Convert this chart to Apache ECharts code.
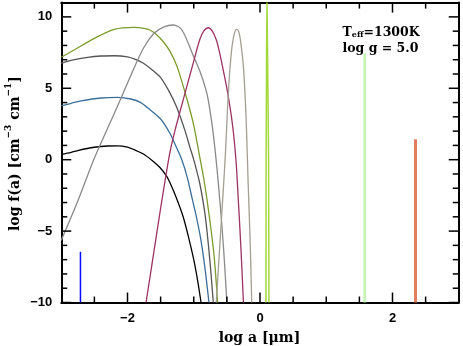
<!DOCTYPE html>
<html><head><meta charset="utf-8">
<script src="https://cdn.jsdelivr.net/npm/echarts@6/dist/echarts.min.js"></script>
<style>html,body{margin:0;padding:0;background:#fff}#wrap{position:relative;width:463px;height:346px;background:#fff}#c,#t{position:absolute;left:0;top:0;width:463px;height:346px}#t{pointer-events:none;z-index:2}#c{z-index:1}</style>
</head><body><div id="wrap"><div id="c"></div><div id="t"></div></div>
<script>
// axis ranges and ticks
const xRange = [-3, 3];
const yRange = [-10, 11];
const xMajorTicks = [-2, 0, 2];
const xMinorTicks = [-2.5, -1.5, -1, -0.5, 0.5, 1, 1.5, 2.5];
const yMajorTicks = [-10, -5, 0, 5, 10];
const yMinorTicks = [-9, -8, -7, -6, -4, -3, -2, -1, 1, 2, 3, 4, 6, 7, 8, 9];

// curves: [log a, log f(a)]
const blackCurve = [[-3.0,0.38],[-2.85,0.52],[-2.74,0.66],[-2.5,0.87],[-2.3,0.96],[-2.15,0.97],[-2.0,0.88],[-1.91,0.72],[-1.76,0.40],[-1.61,-0.12],[-1.51,-0.55],[-1.41,-1.15],[-1.36,-1.6],[-1.26,-2.7],[-1.16,-4.0],[-1.08,-5.4],[-1.0,-7.0],[-0.94,-8.5],[-0.89,-10]];
const blueCurve = [[-3.0,3.76],[-2.85,3.95],[-2.7,4.12],[-2.4,4.32],[-2.15,4.36],[-1.95,4.25],[-1.8,4.0],[-1.66,3.5],[-1.5,2.85],[-1.36,1.85],[-1.26,0.85],[-1.18,0.0],[-1.1,-1.2],[-1.02,-2.8],[-0.96,-4.0],[-0.9,-5.4],[-0.86,-6.6],[-0.82,-8.0],[-0.77,-10]];
const darkGrayCurve = [[-3.0,6.75],[-2.8,7.0],[-2.6,7.17],[-2.4,7.26],[-2.2,7.28],[-2.0,7.2],[-1.88,7.02],[-1.76,6.75],[-1.63,6.3],[-1.5,5.75],[-1.38,4.85],[-1.26,3.7],[-1.13,2.0],[-1.06,0.9],[-1.0,0.0],[-0.91,-1.65],[-0.84,-3.5],[-0.8,-5.0],[-0.75,-7.4],[-0.705,-10]];
const oliveCurve = [[-3.0,7.17],[-2.8,7.7],[-2.5,8.5],[-2.2,9.13],[-1.9,9.27],[-1.75,9.2],[-1.66,9.08],[-1.56,8.75],[-1.46,8.26],[-1.36,7.6],[-1.25,6.5],[-1.1,4.2],[-1.0,2.4],[-0.91,0.2],[-0.85,-1.3],[-0.8,-2.8],[-0.75,-4.5],[-0.7,-6.4],[-0.67,-8.0],[-0.64,-10]];
const grayCurve = [[-3.0,-5.65],[-2.75,-2.9],[-2.51,0.0],[-2.3,2.2],[-2.11,4.18],[-1.95,5.9],[-1.76,7.8],[-1.6,8.85],[-1.45,9.3],[-1.31,9.43],[-1.18,9.1],[-1.0,7.2],[-0.9,6.1],[-0.8,4.6],[-0.74,3.0],[-0.69,1.2],[-0.65,-0.6],[-0.6,-3.2],[-0.55,-6.2],[-0.5,-10]];
const magentaCurve = [[-1.72,-10],[-1.6,-6.4],[-1.5,-3.4],[-1.42,-1.1],[-1.36,0.5],[-1.28,2.1],[-1.2,3.5],[-1.1,5.2],[-1.0,6.9],[-0.91,8.4],[-0.85,9.0],[-0.78,9.24],[-0.72,9.0],[-0.66,8.4],[-0.62,7.7],[-0.56,6.4],[-0.5,5.0],[-0.44,3.3],[-0.4,1.85],[-0.36,-0.2],[-0.33,-2.6],[-0.29,-6.0],[-0.25,-10]];
const tanCurve = [[-0.66,-10],[-0.6,-5.5],[-0.55,-1.8],[-0.52,0.6],[-0.49,3.6],[-0.46,6.0],[-0.42,8.0],[-0.38,8.95],[-0.35,9.13],[-0.32,8.95],[-0.29,8.2],[-0.25,6.5],[-0.22,4.0],[-0.2,1.6],[-0.18,-1.5],[-0.15,-5.5],[-0.125,-10]];
const yellowGreenSpike = [[0.09,-10],[0.092,0],[0.1,8],[0.106,11],[0.113,8],[0.13,0],[0.135,-10]];
const paleGreenSpike = [[1.58,-10],[1.58,7.45]];
const orangeSpike = [[2.347,-10],[2.347,1.43]];
const blueSpike = [[-2.71,-10],[-2.71,-6.44]];

const fmt = v => String(v).replace('-', '\u2212');
const gridBox = {left: 61.25, top: 2.6, width: 397.5, height: 299.9};

// ---- tick overlay first: a transparent chart with the same grid and scales ----
try {
  const tickChart = echarts.init(document.getElementById('t'), null, {renderer:'canvas'});
  tickChart.setOption({
    animation:false,
    grid: Object.assign({}, gridBox),
    xAxis:{type:'value', min:xRange[0], max:xRange[1], axisLine:{show:false}, axisTick:{show:false}, axisLabel:{show:false}, splitLine:{show:false}},
    yAxis:{type:'value', min:yRange[0], max:yRange[1], axisLine:{show:false}, axisTick:{show:false}, axisLabel:{show:false}, splitLine:{show:false}},
    series:[{type:'line', data:[[xRange[0], yRange[0]], [xRange[1], yRange[1]]], showSymbol:false, lineStyle:{opacity:0}, silent:true}]
  });
  const els = [];
  const toPx = p => tickChart.convertToPixel({xAxisIndex:0, yAxisIndex:0}, p);
  const addX = (vals, len) => vals.forEach(v => {
    const b = toPx([v, yRange[0]]), t = toPx([v, yRange[1]]);
    els.push({type:'rect', shape:{x:b[0] - 0.75, y:b[1] - len, width:1.5, height:len}, style:{fill:'#000'}});
    els.push({type:'rect', shape:{x:t[0] - 0.75, y:t[1], width:1.5, height:len}, style:{fill:'#000'}});
  });
  const addY = (vals, len) => vals.forEach(v => {
    const l = toPx([xRange[0], v]), r = toPx([xRange[1], v]);
    els.push({type:'rect', shape:{x:l[0], y:l[1] - 0.75, width:len, height:1.5}, style:{fill:'#000'}});
    els.push({type:'rect', shape:{x:r[0] - len, y:r[1] - 0.75, width:len, height:1.5}, style:{fill:'#000'}});
  });
  addX(xMajorTicks, 10); addX(xMinorTicks, 6);
  addY(yMajorTicks, 10); addY(yMinorTicks, 6);
  tickChart.setOption({graphic: els});
} catch (e) { /* keep going */ }

// ---- main chart ----
const labelFont = {color:'#000', fontFamily:'Liberation Sans', fontWeight:'bold', fontSize:13};
function xAx(pos, labels) {
  return {type:'value', min:xRange[0], max:xRange[1], interval:0.5, position:pos,
    axisLine:{show:true, onZero:false, lineStyle:{color:'#000', width:2}},
    axisTick:{show:false},
    axisLabel:Object.assign({show:labels, margin:9,
      formatter: v => xMajorTicks.indexOf(v) >= 0 ? fmt(v) : ''}, labelFont),
    splitLine:{show:false}};
}
function yAx(pos, labels) {
  return {type:'value', min:yRange[0], max:yRange[1], interval:1, position:pos,
    axisLine:{show:true, onZero:false, lineStyle:{color:'#000', width:2}},
    axisTick:{show:false},
    axisLabel:Object.assign({show:labels, margin:9,
      formatter: v => yMajorTicks.indexOf(v) >= 0 ? fmt(v) : ''}, labelFont),
    splitLine:{show:false}};
}
function line(data, color, width, smooth) {
  return {type:'line', data:data, showSymbol:false, symbol:'none',
    smooth:smooth, lineStyle:{color:color, width:width}};
}
try {
  const chart = echarts.init(document.getElementById('c'), null, {renderer:'canvas'});
  chart.setOption({
    animation:false,
    grid: Object.assign({}, gridBox),
    xAxis:[xAx('bottom', true), xAx('top', false)],
    yAxis:[yAx('left', true), yAx('right', false)],
    series:[
      line(blackCurve, '#000000', 1.3, 0.3),
      line(blueCurve, '#3b6f9a', 1.3, 0.3),
      line(darkGrayCurve, '#555555', 1.3, 0.3),
      line(oliveCurve, '#7b9c2a', 1.3, 0.3),
      line(grayCurve, '#8a8a8a', 1.3, 0.3),
      line(magentaCurve, '#9c3364', 1.3, 0.3),
      line(tanCurve, '#a39f94', 1.3, 0.3),
      line(yellowGreenSpike, '#a3d93a', 1.5, false),
      line(paleGreenSpike, '#c0f5b0', 2.5, false),
      line(orangeSpike, '#e07f60', 3, false),
      line(blueSpike, '#0a0aff', 1.5, false)
    ],
    graphic:[
      {type:'text', x:342.5, y:25, style:{text:'{a|T}{b|eff}{a|=1300K}', rich:{
        a:{fontFamily:'DejaVu Serif', fontWeight:'bold', fontSize:12.5, lineHeight:14, fill:'#000', verticalAlign:'bottom'},
        b:{fontFamily:'DejaVu Serif', fontWeight:'bold', fontSize:8, lineHeight:6, fill:'#000', verticalAlign:'bottom'}}}},
      {type:'text', x:342.5, y:42.5, style:{text:'log g = 5.0', fontFamily:'DejaVu Serif', fontWeight:'bold', fontSize:12.5, fill:'#000'}},
      {type:'text', x:259.5, y:338, style:{text:'log a [\u03bcm]', fontFamily:'DejaVu Serif', fontWeight:'bold', fontSize:14, fill:'#000', align:'center', verticalAlign:'middle'}},
      {type:'text', x:13.5, y:153.5, rotation:Math.PI/2, style:{text:'{a|log f(a) [cm}{s|\u22123}{a| cm}{s|\u22121}{a|]}', align:'center', verticalAlign:'middle', rich:{
        a:{fontFamily:'DejaVu Serif', fontWeight:'bold', fontSize:14, lineHeight:18, fill:'#000', verticalAlign:'bottom'},
        s:{fontFamily:'DejaVu Serif', fontWeight:'bold', fontSize:9, lineHeight:9, fill:'#000', verticalAlign:'top'}}}}
    ]
  });
} catch (e) { /* keep going */ }
</script></body></html>
